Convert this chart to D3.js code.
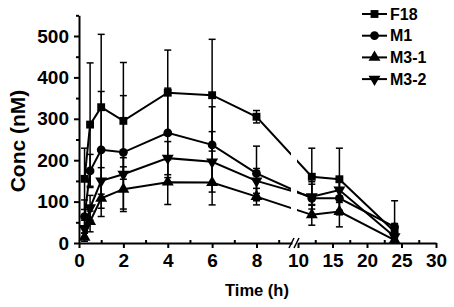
<!DOCTYPE html>
<html>
<head>
<meta charset="utf-8">
<script src="https://cdn.jsdelivr.net/npm/d3@7"></script>
<style>
  body { margin: 0; background: #fff; }
  svg { font-family: "Liberation Sans", Arial, sans-serif; font-weight: bold; }
</style>
</head>
<body>
<div id="chart-area"></div>
<script>
// time points (h)
var times = [0.25, 0.5, 1, 2, 4, 6, 8, 12, 16, 24];

// mean concentrations (nM)
var f18 = [155, 286, 328, 295, 363, 357, 305, 160, 154, 27];
var m1 = [64, 174, 225, 219, 266, 237, 168, 108, 108, 39];
var m31 = [14, 52, 108, 130, 147, 146, 112, 68, 76, 7];
var m32 = [35, 85, 150, 166, 205, 196, 150, 112, 128, 15];

// SD
var f18Err = [74, 149, 176, 141, 103, 135, 15, 69, 75, 20];
var m1Err = [40, 40, 141, 137, 108, 92, 66, 40, 40, 63];
var m31Err = [10, 25, 44, 54, 54, 54, 20, 25, 37, 5];
var m32Err = [20, 30, 32, 40, 40, 73, 30, 30, 30, 10];

var seriesNames = ["F18", "M1", "M3-1", "M3-2"];
var yTicks = [0, 100, 200, 300, 400, 500];
var xTicksLeft = [0, 2, 4, 6, 8];
var xTicksRight = [10, 15, 20, 25, 30];

var series = [
  { name: seriesNames[0], values: f18, err: f18Err, shape: "square" },
  { name: seriesNames[1], values: m1, err: m1Err, shape: "circle" },
  { name: seriesNames[2], values: m31, err: m31Err, shape: "up" },
  { name: seriesNames[3], values: m32, err: m32Err, shape: "down" }
];

var W = 454, H = 307;
var svg = d3.select("#chart-area").append("svg")
    .attr("width", W)
    .attr("height", H);

// SCALES (broken x axis)
var xLeft = d3.scaleLinear().domain([0, 9.6]).range([79, 292]);
var xRight = d3.scaleLinear().domain([10, 30]).range([298, 436]);
function x(t) { return t <= 9.6 ? xLeft(t) : xRight(t); }

var y = d3.scaleLinear().domain([0, 550]).range([243, 15.3]);

// clip paths for the gap in the lines
var defs = svg.append("defs");
defs.append("clipPath").attr("id", "clipL")
  .append("rect").attr("x", 0).attr("y", 0).attr("width", 291).attr("height", H);
defs.append("clipPath").attr("id", "clipR")
  .append("rect").attr("x", 297).attr("y", 0).attr("width", W - 297).attr("height", H);

//AXIS
var yAxisGroup = svg.append("g")
    .attr("transform", "translate(79,0)")
    .call(d3.axisLeft(y).tickValues(yTicks).tickSize(5).tickSizeOuter(0).tickPadding(5));
svg.append("g")
    .attr("transform", "translate(79,0)")
    .call(d3.axisLeft(y).tickValues([50, 150, 250, 350, 450, 550]).tickSize(3).tickFormat(""))
    .select(".domain").remove();

var xAxisL = svg.append("g")
    .attr("transform", "translate(0,243)")
    .call(d3.axisBottom(xLeft).tickValues(xTicksLeft).tickSize(5).tickSizeOuter(0).tickPadding(6));
svg.append("g")
    .attr("transform", "translate(0,243)")
    .call(d3.axisBottom(xLeft).tickValues([1, 3, 5, 7, 9]).tickSize(-3).tickFormat(""))
    .select(".domain").remove();

var xAxisR = svg.append("g")
    .attr("transform", "translate(0,243)")
    .call(d3.axisBottom(xRight).tickValues(xTicksRight).tickSize(5).tickSizeOuter(0).tickPadding(6));
svg.append("g")
    .attr("transform", "translate(0,243)")
    .call(d3.axisBottom(xRight).tickValues([12.5, 17.5, 22.5, 27.5]).tickSize(-3).tickFormat(""))
    .select(".domain").remove();

svg.selectAll(".domain, .tick line")
    .attr("stroke", "#000")
    .attr("stroke-width", 2);
svg.selectAll(".tick text")
    .attr("font-size", "19px")
    .attr("font-weight", "bold")
    .attr("font-family", "'Liberation Sans', Arial, sans-serif")
    .attr("fill", "#000");

// break marks
[0, 5].forEach(function (dx) {
  svg.append("line")
    .attr("x1", 289 + dx).attr("y1", 248)
    .attr("x2", 294 + dx).attr("y2", 238)
    .attr("stroke", "#000").attr("stroke-width", 1.5);
});

// Labels
svg.append("text")
    .attr("transform", "translate(25,141) rotate(-90)")
    .attr("text-anchor", "middle")
    .attr("font-size", "21px")
    .text("Conc (nM)");

svg.append("text")
    .attr("x", 257)
    .attr("y", 296)
    .attr("text-anchor", "middle")
    .attr("font-size", "16.5px")
    .text("Time (h)");

function symbolPath(shape) {
  if (shape === "square") return d3.symbol().type(d3.symbolSquare).size(62)();
  if (shape === "circle") return d3.symbol().type(d3.symbolCircle).size(60)();
  return d3.symbol().type(d3.symbolTriangle).size(62)();
}
function symbolTransform(shape, px, py) {
  return "translate(" + px + "," + py + ")" + (shape === "down" ? " rotate(180)" : "");
}

// ERROR BARS
series.forEach(function (s) {
  var eg = svg.append("g").attr("stroke", "#000").attr("stroke-width", 1.5);
  s.values.forEach(function (v, i) {
    var px = x(times[i]);
    var top = y(v + s.err[i]);
    var bot = y(Math.max(0, v - s.err[i]));
    eg.append("line").attr("x1", px).attr("x2", px).attr("y1", top).attr("y2", bot);
    eg.append("line").attr("x1", px - 3.5).attr("x2", px + 3.5).attr("y1", top).attr("y2", top);
    eg.append("line").attr("x1", px - 3.5).attr("x2", px + 3.5).attr("y1", bot).attr("y2", bot);
  });
});

// LINES
var line = d3.line()
    .x(function (d, i) { return x(times[i]); })
    .y(function (d) { return y(d); });

["clipL", "clipR"].forEach(function (c) {
  svg.append("g").attr("clip-path", "url(#" + c + ")")
    .selectAll("path").data(series).enter()
    .append("path")
    .attr("d", function (s) { return line(s.values); })
    .attr("fill", "none")
    .attr("stroke", "#000")
    .attr("stroke-width", 2);
});

// MARKERS
series.forEach(function (s) {
  svg.append("g").selectAll("path").data(s.values).enter()
    .append("path")
    .attr("d", symbolPath(s.shape))
    .attr("transform", function (d, i) { return symbolTransform(s.shape, x(times[i]), y(d)); })
    .attr("fill", "#000");
});

// LEGEND
var legend = svg.append("g");
series.forEach(function (s, i) {
  var ly = 14 + i * 21.7;
  legend.append("line")
    .attr("x1", 362).attr("x2", 387).attr("y1", ly).attr("y2", ly)
    .attr("stroke", "#000").attr("stroke-width", 2);
  legend.append("path")
    .attr("d", symbolPath(s.shape))
    .attr("transform", symbolTransform(s.shape, 374.5, ly))
    .attr("fill", "#000");
  legend.append("text")
    .attr("x", 390)
    .attr("y", ly + 5.5)
    .attr("font-size", "16px")
    .text(s.name);
});
</script>
</body>
</html>
